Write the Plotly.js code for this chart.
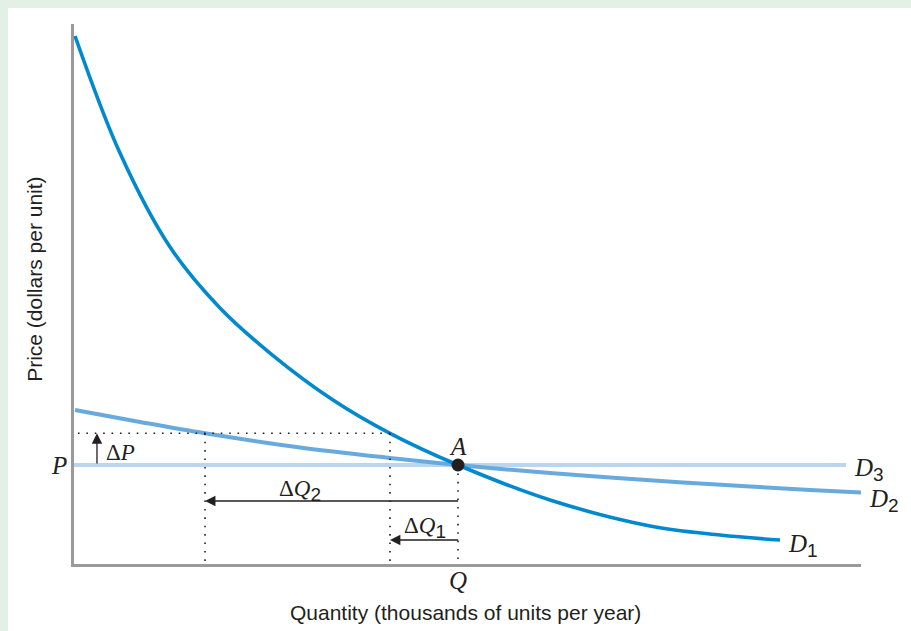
<!DOCTYPE html>
<html>
<head>
<meta charset="utf-8">
<script src="https://cdn.plot.ly/plotly-3.0.1.min.js"></script>
<style>
html,body{margin:0;padding:0;background:#e2f0e5;width:911px;height:631px;overflow:hidden;}
#chart{position:absolute;left:8px;top:8px;width:903px;height:623px;background:#fff;}
</style>
</head>
<body>
<div id="chart"></div>
<script>
// Demand curve D1 (relatively inelastic)
const d1Q = [0.13, 5.84, 12.20, 18.55, 24.90, 32.91, 40.15, 48.79, 60.48, 73.19, 82.08, 89.71];
const d1P = [97.78, 76.11, 58.70, 47.41, 39.07, 30.37, 24.20, 18.33, 11.85, 7.04, 5.37, 4.44];
// Demand curve D2 (more elastic)
const d2Q = [0.13, 8.39, 16.65, 28.72, 40.15, 48.79, 60.48, 69.0, 77.38, 85.90, 93.52, 100];
const d2P = [28.52, 26.30, 24.20, 21.57, 19.63, 18.33, 16.85, 15.93, 15.09, 14.35, 13.70, 13.24];
// Demand curve D3 (perfectly elastic)
const d3Q = [0, 98.1];
const d3P = [18.33, 18.33];
// Equilibrium point A and the shifted price
const pointQ = [48.79];
const pointP = [18.33];
const priceHigh = 24.2;
const q1High = 40.15;   // quantity on D1 at the higher price
const q2High = 16.65;   // quantity on D2 at the higher price
const labels = {A: 'A', P: 'P', Q: 'Q'};

const serif = 'Liberation Serif, Times New Roman, serif';
const sans = 'Liberation Sans, Arial, Helvetica, sans-serif';
const ink = '#231f20';

const traces = [
  {x: d3Q, y: d3P, mode: 'lines', line: {color: '#b8d6f0', width: 4}, hoverinfo: 'skip'},
  {x: d2Q, y: d2P, mode: 'lines', line: {color: '#68aade', width: 4, shape: 'spline', smoothing: 1}, hoverinfo: 'skip'},
  {x: d1Q, y: d1P, mode: 'lines', line: {color: '#0089cf', width: 3.6, shape: 'spline', smoothing: 1}, hoverinfo: 'skip'},
  {x: pointQ, y: pointP, mode: 'markers', marker: {color: ink, size: 13}, hoverinfo: 'skip', cliponaxis: false}
];

const dot = {color: ink, width: 1.6, dash: '1.6px,6.8px'};
const shapes = [
  {type: 'line', xref: 'x', yref: 'y', x0: 0.5, x1: q1High, y0: priceHigh, y1: priceHigh, line: dot},
  {type: 'line', xref: 'x', yref: 'y', x0: q2High, x1: q2High, y0: priceHigh, y1: 0, line: dot},
  {type: 'line', xref: 'x', yref: 'y', x0: q1High, x1: q1High, y0: priceHigh, y1: 0, line: dot},
  {type: 'line', xref: 'x', yref: 'y', x0: pointQ[0], x1: pointQ[0], y0: pointP[0], y1: 0, line: dot}
];

function sub(d){ return '<sub><span style="font-family:Liberation Sans;font-style:normal;font-size:19px">' + d + '</span></sub>'; }

const lbl = (text, x, y, opts) => Object.assign({
  text: text, x: x, y: y, xref: 'x', yref: 'y', showarrow: false, borderpad: 0,
  font: {family: serif, size: 25, color: ink}, xanchor: 'center', yanchor: 'middle'
}, opts || {});

const arrow = (x, y, ax, ay) => ({
  x: x, y: y, ax: ax, ay: ay, xref: 'x', yref: 'y', axref: 'x', ayref: 'y',
  text: '', showarrow: true, arrowhead: 2, arrowsize: 1.6, arrowwidth: 1.3, arrowcolor: ink, standoff: 0, startstandoff: 0
});

const annotations = [
  arrow(2.92, priceHigh, 2.92, pointP[0]),
  arrow(q2High, 11.67, pointQ[0] + 0.2, 11.67),
  arrow(q1High, 4.44, pointQ[0] + 0.2, 4.44),
  lbl('<i>' + labels.A + '</i>', pointQ[0], 21.8),
  lbl('<i>' + labels.P + '</i>', -0.007, pointP[0], {xref: 'paper', xanchor: 'right'}),
  lbl('<i>' + labels.Q + '</i>', pointQ[0], -0.03, {yref: 'paper'}),
  lbl('Δ<i>P</i>', 0.039, 20.7, {xref: 'paper', xanchor: 'left', font: {family: serif, size: 23, color: ink}}),
  lbl('Δ<i>Q</i>' + sub('2'), 28.7, 13.6, {font: {family: serif, size: 23, color: ink}}),
  lbl('Δ<i>Q</i>' + sub('1'), 44.6, 6.8, {font: {family: serif, size: 23, color: ink}}),
  lbl('<i>D</i>' + sub('3'), 0.9898, 17.5, {xref: 'paper', xanchor: 'left'}),
  lbl('<i>D</i>' + sub('2'), 1.0085, 11.8, {xref: 'paper', xanchor: 'left'}),
  lbl('<i>D</i>' + sub('1'), 0.9055, 3.4, {xref: 'paper', xanchor: 'left'}),
  {text: 'Price (dollars per unit)', xref: 'paper', yref: 'paper', x: -0.0496, y: 0.528, textangle: -90,
   showarrow: false, font: {family: sans, size: 21, color: ink}, xanchor: 'center', yanchor: 'middle'},
  {text: 'Quantity (thousands of units per year)', xref: 'paper', yref: 'paper', x: 0.497, y: -0.0889,
   showarrow: false, font: {family: sans, size: 21, color: ink}, xanchor: 'center', yanchor: 'middle'}
];

const layout = {
  width: 903, height: 623,
  margin: {l: 66, r: 50, t: 16, b: 67, pad: 0},
  paper_bgcolor: '#ffffff', plot_bgcolor: '#ffffff',
  showlegend: false,
  xaxis: {range: [0, 100], showgrid: false, zeroline: false, showticklabels: false, ticks: '',
          showline: true, linecolor: '#9a9a9c', linewidth: 2.6, fixedrange: true},
  yaxis: {range: [0, 100], showgrid: false, zeroline: false, showticklabels: false, ticks: '',
          showline: true, linecolor: '#9a9a9c', linewidth: 2.6, fixedrange: true},
  shapes: shapes,
  annotations: annotations
};

Plotly.newPlot('chart', traces, layout, {staticPlot: true, displayModeBar: false});
</script>
</body>
</html>
